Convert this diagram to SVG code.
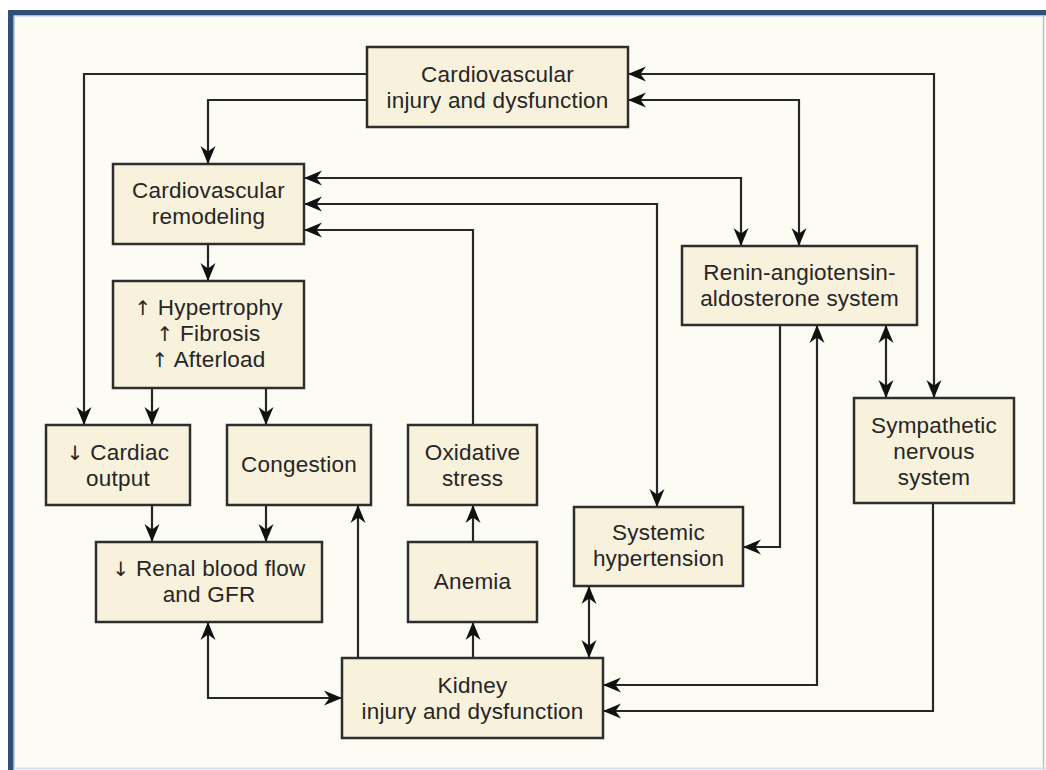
<svg xmlns="http://www.w3.org/2000/svg" width="1046" height="770" viewBox="0 0 1046 770">
  <style>
    .box { fill: #f8f1dc; stroke: #2e2e2e; stroke-width: 2.5; }
    .lbl { font-family: "Liberation Sans", Arial, sans-serif; font-size: 22.5px; letter-spacing: 0.2px; fill: #262626; text-anchor: middle; }
    .sym { font-family: "DejaVu Sans", sans-serif; font-size: 20px; }
    .wire { fill: none; stroke: #262626; stroke-width: 2.2; }
  </style>
  <defs>
    <marker id="arr" markerUnits="userSpaceOnUse" markerWidth="20" markerHeight="18" refX="18" refY="8" orient="auto-start-reverse" viewBox="0 0 20 18">
      <path d="M18,8 L0,0.5 L5.5,8 L0,15.5 Z" fill="#111"/>
    </marker>
  </defs>

  <!-- page frame -->
  <rect x="0" y="0" width="1046" height="770" fill="#ffffff"/>
  <rect x="14" y="15" width="1032" height="755" fill="#fdfcf4"/>
  <rect x="8" y="10" width="1038" height="5.5" fill="#2f4e78"/>
  <rect x="8" y="10" width="5.5" height="760" fill="#2f4e78"/>
  <line x1="14.5" y1="15.5" x2="14.5" y2="770" stroke="#b9cde0" stroke-width="1"/>
  <line x1="14" y1="16" x2="1046" y2="16" stroke="#b9cde0" stroke-width="1"/>
  <line x1="1043.5" y1="16" x2="1043.5" y2="770" stroke="#b7c3cc" stroke-width="1.5"/>
  <line x1="14" y1="768.5" x2="1046" y2="768.5" stroke="#d3e3ee" stroke-width="2"/>

  <!-- connectors -->
  <g id="connectors">
    <path class="wire" d="M367,74 H84 V425" marker-end="url(#arr)"/>
    <path class="wire" d="M367,100 H208 V164" marker-end="url(#arr)"/>
    <path class="wire" d="M304,178 H741 V246" marker-start="url(#arr)" marker-end="url(#arr)"/>
    <path class="wire" d="M304,204 H657 V507" marker-start="url(#arr)" marker-end="url(#arr)"/>
    <path class="wire" d="M473,425 V230 H304" marker-end="url(#arr)"/>
    <path class="wire" d="M628,74 H934 V398" marker-start="url(#arr)" marker-end="url(#arr)"/>
    <path class="wire" d="M628,100 H799 V246" marker-start="url(#arr)" marker-end="url(#arr)"/>
    <path class="wire" d="M208,244 V281" marker-end="url(#arr)"/>
    <path class="wire" d="M152,388 V425" marker-end="url(#arr)"/>
    <path class="wire" d="M266,388 V425" marker-end="url(#arr)"/>
    <path class="wire" d="M152,505 V542" marker-end="url(#arr)"/>
    <path class="wire" d="M266,505 V542" marker-end="url(#arr)"/>
    <path class="wire" d="M358,658 V505" marker-end="url(#arr)"/>
    <path class="wire" d="M473,658 V622" marker-end="url(#arr)"/>
    <path class="wire" d="M473,542 V505" marker-end="url(#arr)"/>
    <path class="wire" d="M589,586 V658" marker-start="url(#arr)" marker-end="url(#arr)"/>
    <path class="wire" d="M208,622 V698 H342" marker-start="url(#arr)" marker-end="url(#arr)"/>
    <path class="wire" d="M780,325 V547 H743" marker-end="url(#arr)"/>
    <path class="wire" d="M603,685 H817 V325" marker-start="url(#arr)" marker-end="url(#arr)"/>
    <path class="wire" d="M933,503 V711 H603" marker-end="url(#arr)"/>
    <path class="wire" d="M886,325 V398" marker-start="url(#arr)" marker-end="url(#arr)"/>
  </g>

  <!-- nodes -->
  <g id="cv-injury">
    <rect class="box" x="367" y="47" width="261" height="80"/>
    <text class="lbl" x="497.5" y="82">Cardiovascular</text>
    <text class="lbl" x="497.5" y="108">injury and dysfunction</text>
  </g>
  <g id="cv-remodeling">
    <rect class="box" x="113" y="164" width="191" height="80"/>
    <text class="lbl" x="208.5" y="198">Cardiovascular</text>
    <text class="lbl" x="208.5" y="224">remodeling</text>
  </g>
  <g id="structural-changes">
    <rect class="box" x="113" y="281" width="191" height="107"/>
    <text class="lbl" x="208.5" y="315"><tspan class="sym">↑</tspan> Hypertrophy</text>
    <text class="lbl" x="208.5" y="341"><tspan class="sym">↑</tspan> Fibrosis</text>
    <text class="lbl" x="208.5" y="367"><tspan class="sym">↑</tspan> Afterload</text>
  </g>
  <g id="cardiac-output">
    <rect class="box" x="46" y="425" width="144" height="80"/>
    <text class="lbl" x="118" y="460"><tspan class="sym">↓</tspan> Cardiac</text>
    <text class="lbl" x="118" y="486">output</text>
  </g>
  <g id="congestion">
    <rect class="box" x="227" y="425" width="144" height="80"/>
    <text class="lbl" x="299" y="472">Congestion</text>
  </g>
  <g id="renal-flow">
    <rect class="box" x="96" y="542" width="226" height="80"/>
    <text class="lbl" x="209" y="576"><tspan class="sym">↓</tspan> Renal blood flow</text>
    <text class="lbl" x="209" y="602">and GFR</text>
  </g>
  <g id="oxidative-stress">
    <rect class="box" x="408" y="425" width="129" height="80"/>
    <text class="lbl" x="472.5" y="460">Oxidative</text>
    <text class="lbl" x="472.5" y="486">stress</text>
  </g>
  <g id="anemia">
    <rect class="box" x="408" y="542" width="129" height="80"/>
    <text class="lbl" x="472.5" y="589">Anemia</text>
  </g>
  <g id="hypertension">
    <rect class="box" x="574" y="507" width="169" height="79"/>
    <text class="lbl" x="658.5" y="540">Systemic</text>
    <text class="lbl" x="658.5" y="566">hypertension</text>
  </g>
  <g id="kidney">
    <rect class="box" x="342" y="658" width="261" height="80"/>
    <text class="lbl" x="472.5" y="693">Kidney</text>
    <text class="lbl" x="472.5" y="719">injury and dysfunction</text>
  </g>
  <g id="raas">
    <rect class="box" x="682" y="246" width="235" height="79"/>
    <text class="lbl" x="799.5" y="280">Renin-angiotensin-</text>
    <text class="lbl" x="799.5" y="306">aldosterone system</text>
  </g>
  <g id="sympathetic">
    <rect class="box" x="854" y="398" width="160" height="105"/>
    <text class="lbl" x="934" y="433">Sympathetic</text>
    <text class="lbl" x="934" y="459">nervous</text>
    <text class="lbl" x="934" y="485">system</text>
  </g>
</svg>
